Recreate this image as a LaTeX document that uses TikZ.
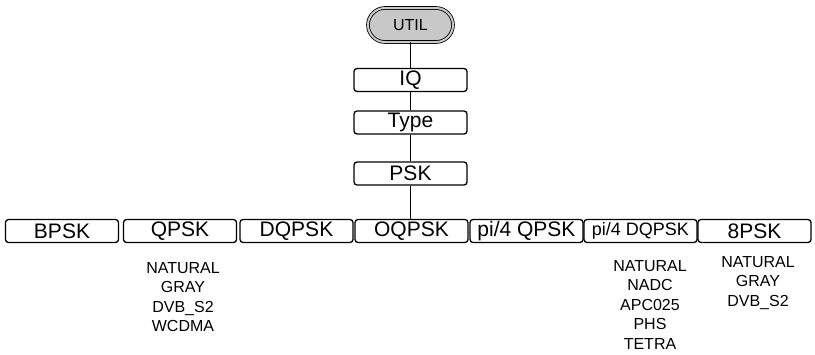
\documentclass[tikz,border=0pt]{standalone}
\usepackage{fontspec}
\setmainfont{Liberation Sans}
\begin{document}
\begin{tikzpicture}[x=1pt,y=-1pt,
  box/.style={draw, line width=1.3pt, rounded corners=3pt, minimum height=23pt, inner sep=0pt, font=\fontsize{21}{21}\selectfont},
  topbox/.style={box, minimum width=113pt},
  rowbox/.style={box, minimum width=113pt},
  term/.style={draw, line width=0.8pt, double=utilgray, double distance=2pt, fill=utilgray, rounded corners=17pt, minimum width=85pt, minimum height=34pt, inner sep=0pt, font=\fontsize{16}{16}\selectfont},
  list/.style={align=center, font=\fontsize{16}{19.5}\selectfont, anchor=north, inner sep=0pt},
  conn/.style={line width=1.3pt}]
\definecolor{utilgray}{RGB}{200,200,200}
\useasboundingbox (0,0) rectangle (815,354);
\node[term] (util) at (410.5,25) {UTIL};
\node[topbox] (iq) at (410.5,80) {IQ};
\node[topbox] (type) at (410.5,122.5) {Type};
\node[topbox] (psk) at (410.5,173.5) {PSK};
\node[rowbox] (bpsk) at (62,231) {BPSK};
\node[rowbox] (qpsk) at (180,231) {QPSK};
\node[rowbox] (dqpsk) at (296.5,231) {DQPSK};
\node[rowbox] (oqpsk) at (411.5,231) {OQPSK};
\node[rowbox] (pqpsk) at (526.5,231) {pi/4 QPSK};
\node[rowbox, font=\fontsize{18}{18}\selectfont] (pdqpsk) at (640.5,231) {pi/4 DQPSK};
\node[rowbox] (epsk) at (754.5,231) {8PSK};
\draw[conn] (util.south) -- (iq.north);
\draw[conn] (iq.south) -- (type.north);
\draw[conn] (type.south) -- (psk.north);
\draw[conn] (psk.south) -- (psk.south |- oqpsk.north);
\node[list] (qlist) at (183,262) {NATURAL\\GRAY\\DVB\_S2\\WCDMA};
\node[list] (pdlist) at (650,260) {NATURAL\\NADC\\APC025\\PHS\\TETRA};
\node[list] (elist) at (758,256) {NATURAL\\GRAY\\DVB\_S2};
\end{tikzpicture}
\end{document}
